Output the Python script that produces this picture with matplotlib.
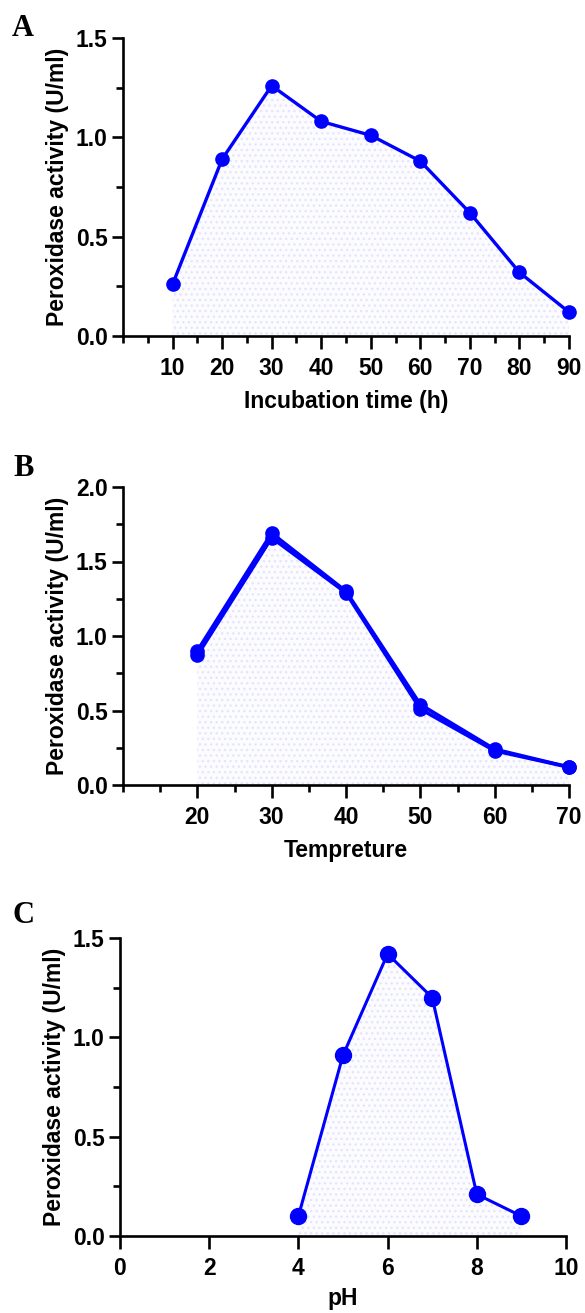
import numpy as np
import matplotlib
matplotlib.use("Agg")
import matplotlib.pyplot as plt
from matplotlib.ticker import MultipleLocator, FormatStrFormatter

plt.rcParams['font.family'] = ['Liberation Sans', 'DejaVu Sans']
plt.rcParams['font.weight'] = 'bold'
plt.rcParams['hatch.linewidth'] = 1.0

# panel A: incubation time
time_h = [10, 20, 30, 40, 50, 60, 70, 80, 90]
act_time = [0.26, 0.89, 1.26, 1.08, 1.01, 0.88, 0.62, 0.32, 0.12]

# panel B: temperature (two replicate runs)
temp = [20, 30, 40, 50, 60, 70]
act_temp_1 = [0.87, 1.66, 1.29, 0.51, 0.23, 0.12]
act_temp_2 = [0.90, 1.69, 1.30, 0.54, 0.24, 0.12]

# panel C: pH
ph = [4, 5, 6, 7, 8, 9]
act_ph = [0.10, 0.91, 1.42, 1.20, 0.21, 0.10]

blue = '#0000ff'
ylab = 'Peroxidase activity (U/ml)'
fs = 16.5

fig = plt.figure(figsize=(5.85, 13.13), dpi=100)
W, H = 585.0, 1313.0


def make_ax(left, top, right, bottom):
    return fig.add_axes([left / W, 1 - bottom / H, (right - left) / W, (bottom - top) / H])


def style(ax):
    for s in ['top', 'right']:
        ax.spines[s].set_visible(False)
    for s in ['left', 'bottom']:
        ax.spines[s].set_linewidth(1.9)
    ax.tick_params(which='major', length=8, width=1.9, labelsize=fs, pad=3)
    ax.tick_params(which='minor', length=5, width=1.9)
    ax.tick_params(axis='x', which='major', length=9, pad=6)
    for lab in ax.get_xticklabels() + ax.get_yticklabels():
        lab.set_fontweight('bold')


def shade(ax, x, y):
    ax.fill_between(x, 0, y, facecolor='#fcfcff', edgecolor='#e4e4ff',
                    hatch='...', linewidth=0, zorder=1)


# ---- A
axA = make_ax(123, 38, 569, 336)
shade(axA, time_h, act_time)
axA.plot(time_h, act_time, '-o', color=blue, lw=2.4, ms=9.5, zorder=3, clip_on=False)
axA.set_xlim(0, 90)
axA.set_ylim(0, 1.5)
axA.set_xticks(time_h)
axA.xaxis.set_minor_locator(MultipleLocator(5))
axA.yaxis.set_major_locator(MultipleLocator(0.5))
axA.yaxis.set_minor_locator(MultipleLocator(0.25))
axA.yaxis.set_major_formatter(FormatStrFormatter('%.1f'))
style(axA)
axA.set_xlabel('Incubation time (h)', fontsize=fs, fontweight='bold', labelpad=7)
axA.set_ylabel(ylab, fontsize=fs, fontweight='bold', labelpad=5)
fig.text(12 / W, 1 - 36 / H, 'A', fontsize=22, fontweight='bold',
         family=['Liberation Serif', 'DejaVu Serif'])

# ---- B
axB = make_ax(123, 487, 569, 785)
shade(axB, temp, act_temp_2)
axB.plot(temp, act_temp_1, '-o', color=blue, lw=2.6, ms=9.5, zorder=3, clip_on=False)
axB.plot(temp, act_temp_2, '-o', color=blue, lw=2.6, ms=9.5, zorder=3, clip_on=False)
axB.set_xlim(10, 70)
axB.set_ylim(0, 2.0)
axB.set_xticks(temp)
axB.xaxis.set_minor_locator(MultipleLocator(5))
axB.yaxis.set_major_locator(MultipleLocator(0.5))
axB.yaxis.set_minor_locator(MultipleLocator(0.25))
axB.yaxis.set_major_formatter(FormatStrFormatter('%.1f'))
style(axB)
axB.set_xlabel('Tempreture', fontsize=fs, fontweight='bold', labelpad=7)
axB.set_ylabel(ylab, fontsize=fs, fontweight='bold', labelpad=5)
fig.text(13 / W, 1 - 476 / H, 'B', fontsize=22, fontweight='bold',
         family=['Liberation Serif', 'DejaVu Serif'])

# ---- C
axC = make_ax(120, 938, 566, 1236)
shade(axC, ph, act_ph)
axC.plot(ph, act_ph, '-o', color=blue, lw=2.2, ms=11.5, zorder=3, clip_on=False)
axC.set_xlim(0, 10)
axC.set_ylim(0, 1.5)
axC.xaxis.set_major_locator(MultipleLocator(2))
axC.yaxis.set_major_locator(MultipleLocator(0.5))
axC.yaxis.set_minor_locator(MultipleLocator(0.25))
axC.yaxis.set_major_formatter(FormatStrFormatter('%.1f'))
style(axC)
axC.set_xlabel('pH', fontsize=fs, fontweight='bold', labelpad=5)
axC.set_ylabel(ylab, fontsize=fs, fontweight='bold', labelpad=5)
fig.text(12 / W, 1 - 923 / H, 'C', fontsize=22, fontweight='bold',
         family=['Liberation Serif', 'DejaVu Serif'])

fig.savefig('out.png', dpi=100)
